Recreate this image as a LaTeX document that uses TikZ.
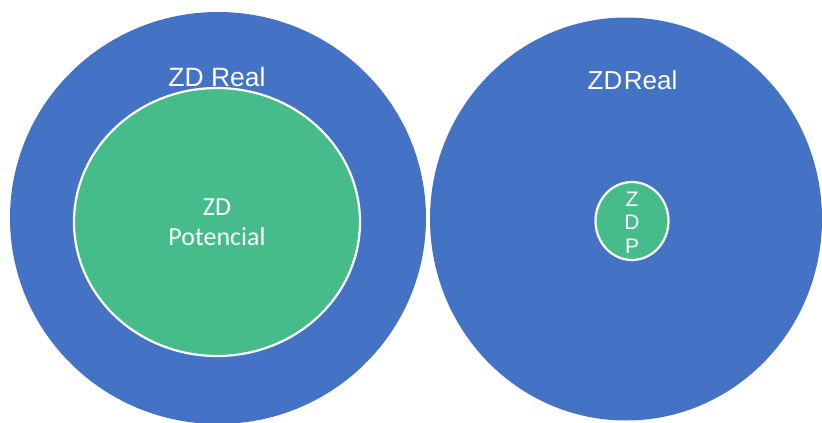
\documentclass[tikz,border=0pt]{standalone}
\usepackage{fontspec}
\setmainfont{Liberation Sans}
\newfontfamily\calibrifont{Carlito}
\usetikzlibrary{shapes.geometric}
\definecolor{zdblue}{HTML}{4472C4}
\definecolor{zdgreen}{HTML}{46BC8B}
\tikzset{
  outer/.style={ellipse, fill=zdblue, inner sep=0pt},
  inner/.style={ellipse, fill=zdgreen, draw=white, line width=2.2pt, inner sep=0pt},
  label/.style={text=white, inner sep=0pt},
}
\begin{document}
\begin{tikzpicture}[x=1pt,y=-1pt]
\useasboundingbox (0,0) rectangle (822,423);
% left pair: potential zone inside the real zone
\node[outer, minimum width=416pt, minimum height=412pt] (realL) at (218,218) {};
\node[inner, minimum width=286pt, minimum height=268pt] (pot) at (217,222) {};
\node[label, font=\fontsize{26.5}{30}\selectfont] (realLtext) at (217,77) {ZD Real};
\node[label, align=center, font=\calibrifont\fontsize{26}{30}\selectfont] (pottext) at (217,222) {ZD\\Potencial};
% right pair: small ZDP inside the real zone
\node[outer, minimum width=392pt, minimum height=403pt] (realR) at (626,219) {};
\node[inner, minimum width=73pt, minimum height=78pt] (zdp) at (632,221) {};
\node[label, font=\fontsize{26}{30}\selectfont] (realRtext) at (632.5,80) {ZD\kern1.5pt Real};
\node[label, align=center, font=\fontsize{21}{23.5}\selectfont] (zdptext) at (632,222.5) {Z\\D\\P};
\end{tikzpicture}
\end{document}
